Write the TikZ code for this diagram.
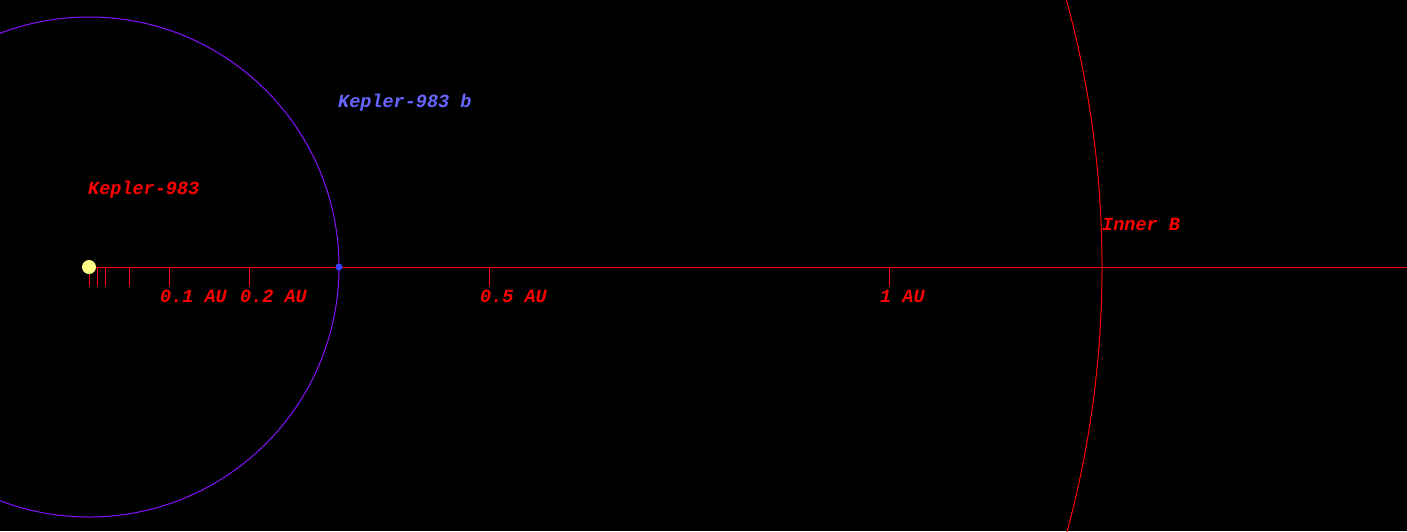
\documentclass[tikz,border=0pt]{standalone}
\usepackage{fontspec}
\newfontfamily\monofnt{Liberation Mono}
\definecolor{axisred}{RGB}{255,0,0}
\definecolor{orbitpurple}{RGB}{136,17,255}
\definecolor{planetblue}{RGB}{51,68,255}
\definecolor{labelblue}{RGB}{102,102,255}
\definecolor{staryellow}{RGB}{255,255,136}
\tikzset{
  lbl/.style={anchor=base west, inner sep=0pt, font=\monofnt\bfseries\itshape\fontsize{18.5}{18.5}\selectfont},
  redlbl/.style={lbl, text=axisred},
  tickmark/.style={draw=axisred, line width=1pt},
}
\begin{document}
\begin{tikzpicture}[x=1pt,y=-1pt]
\useasboundingbox[fill=black] (0,0) rectangle (1407,531);
\coordinate (star) at (89,267);
\coordinate (axisend) at (1407,267);
% orbits
\draw[orbitpurple, line width=1pt] (star) circle[radius=250];
\draw[axisred, line width=1pt] (star) circle[radius=1013];
% axis
\draw[axisred, line width=1pt] (star) -- (axisend);
% ticks
\foreach \x/\n in {89/t0,97/t1,105/t2,129/t5,169/t10,249/t20,489/t50,889/t100}{
  \coordinate (\n a) at (\x,267);
  \coordinate (\n b) at (\x,285.5);
  \draw[tickmark] (\n a) -- (\n b);
}
% tick labels
\node[redlbl] (l1) at (160,302.7) {0.1 AU};
\node[redlbl] (l2) at (240,302.7) {0.2 AU};
\node[redlbl] (l5) at (480,302.7) {0.5 AU};
\node[redlbl] (l10) at (880,302.7) {1 AU};
% star
\fill[staryellow] (star) circle[radius=7];
\node[redlbl] (starlbl) at (88,194.3) {Kepler-983};
% planet
\node[circle, fill=planetblue, inner sep=0pt, minimum size=7pt] (planet) at (339,267) {};
\node[lbl, text=labelblue] (planetlbl) at (338,107.7) {Kepler-983 b};
% inner boundary label
\node[redlbl] (innerlbl) at (1102,230.7) {Inner B};
\end{tikzpicture}
\end{document}
